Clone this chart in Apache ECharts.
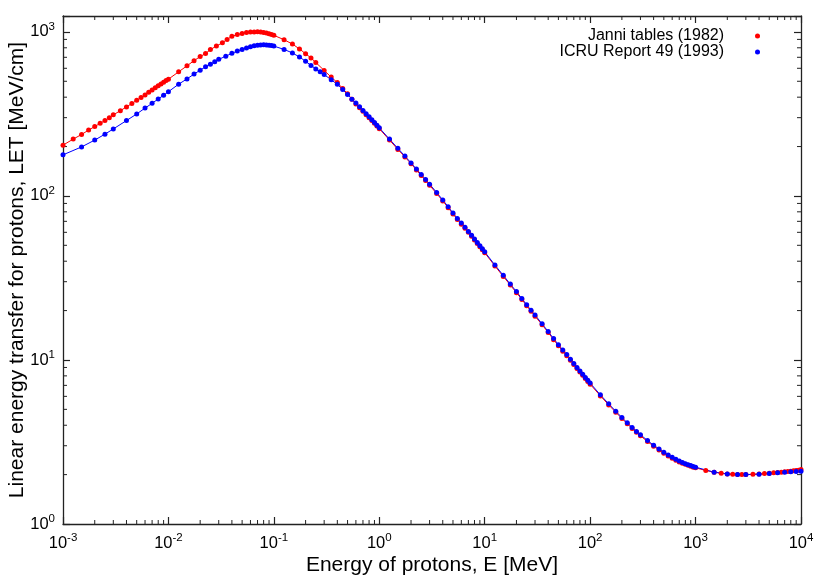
<!DOCTYPE html>
<html>
<head>
<meta charset="utf-8">
<script src="https://cdn.jsdelivr.net/npm/echarts@6/dist/echarts.min.js"></script>
<style>
  html, body { margin: 0; background: #fff; }
  #chart { width: 830px; height: 581px; }
</style>
</head>
<body>
<div id="chart"></div>
<script>
// proton energy [MeV] / LET [MeV/cm]
const janniE = [
  0.001, 0.00125, 0.0015, 0.00175, 0.002, 0.00225, 0.0025, 0.00275, 0.003, 0.0035,
  0.004, 0.0045, 0.005, 0.0055, 0.006, 0.0065, 0.007, 0.0075, 0.008, 0.0085,
  0.009, 0.0095, 0.01, 0.0125, 0.015, 0.0175, 0.02, 0.0225, 0.025, 0.0285,
  0.0325, 0.036, 0.04, 0.045, 0.05, 0.055, 0.06, 0.065, 0.07, 0.075,
  0.08, 0.085, 0.09, 0.095, 0.1, 0.125, 0.15, 0.175, 0.2, 0.225,
  0.25, 0.3, 0.35, 0.4, 0.45, 0.5, 0.55, 0.6, 0.65, 0.7,
  0.75, 0.8, 0.85, 0.9, 0.95, 1, 1.25, 1.5, 1.75, 2,
  2.25, 2.5, 2.75, 3, 3.5, 4, 4.5, 5, 5.5, 6,
  6.5, 7, 7.5, 8, 8.5, 9, 9.5, 10, 12.5, 15,
  17.5, 20, 22.5, 25, 27.5, 30, 35, 40, 45, 50,
  55, 60, 65, 70, 75, 80, 85, 90, 95, 100,
  125, 150, 175, 200, 225, 250, 275, 300, 350, 400,
  450, 500, 550, 600, 650, 700, 750, 800, 850, 900,
  950, 1000, 1250, 1500, 1750, 2000, 2250, 2500, 2750, 3000,
  3500, 4000, 4500, 5000, 5500, 6000, 6500, 7000, 7500, 8000,
  8500, 9000, 9500, 10000
];
const janniLET = [
  204, 222, 237, 252, 265, 277, 288, 300, 312, 331,
  349, 366, 383, 398, 412, 428, 443, 457, 470, 482,
  494, 505, 515, 571, 621, 668, 707, 738, 780, 820,
  858, 900, 940, 963, 978, 991, 999, 1000, 1001, 999,
  992, 983, 974, 963, 953, 896, 843, 787, 736, 694,
  651, 582, 530, 491, 451, 420, 389, 363, 345, 328,
  313, 300, 288, 277, 267, 257, 219, 192, 173, 157,
  144, 133, 124, 116, 103.5, 93.2, 84.8, 77.6, 71.9, 67.3,
  63.5, 60.0, 56.8, 53.9, 51.3, 49.0, 46.9, 45.0, 37.4, 32.3,
  28.6, 25.7, 23.4, 21.4, 19.8, 18.5, 16.4, 14.7, 13.3, 12.2,
  11.3, 10.6, 9.95, 9.37, 8.87, 8.45, 8.06, 7.72, 7.40, 7.12,
  6.04, 5.32, 4.80, 4.40, 4.08, 3.82, 3.62, 3.45, 3.18, 2.98,
  2.83, 2.70, 2.60, 2.52, 2.45, 2.39, 2.35, 2.31, 2.28, 2.25,
  2.22, 2.20, 2.12, 2.07, 2.04, 2.02, 2.01, 2.00, 2.00, 2.00,
  2.01, 2.02, 2.03, 2.04, 2.05, 2.06, 2.07, 2.08, 2.09, 2.10,
  2.11, 2.12, 2.13, 2.15
];
const icruE = [
  0.001, 0.0015, 0.002, 0.0025, 0.003, 0.004, 0.005, 0.006, 0.007, 0.008,
  0.009, 0.01, 0.0125, 0.015, 0.0175, 0.02, 0.0225, 0.025, 0.0275, 0.03,
  0.035, 0.04, 0.045, 0.05, 0.055, 0.06, 0.065, 0.07, 0.075, 0.08,
  0.085, 0.09, 0.095, 0.1, 0.125, 0.15, 0.175, 0.2, 0.225, 0.25,
  0.275, 0.3, 0.35, 0.4, 0.45, 0.5, 0.55, 0.6, 0.65, 0.7,
  0.75, 0.8, 0.85, 0.9, 0.95, 1, 1.25, 1.5, 1.75, 2,
  2.25, 2.5, 2.75, 3, 3.5, 4, 4.5, 5, 5.5, 6,
  6.5, 7, 7.5, 8, 8.5, 9, 9.5, 10, 12.5, 15,
  17.5, 20, 22.5, 25, 27.5, 30, 35, 40, 45, 50,
  55, 60, 65, 70, 75, 80, 85, 90, 95, 100,
  125, 150, 175, 200, 225, 250, 275, 300, 350, 400,
  450, 500, 550, 600, 650, 700, 750, 800, 850, 900,
  950, 1000, 1500, 2000, 2500, 3000, 4000, 5000, 6000, 7000,
  8000, 9000, 10000
];
const icruLET = [
  178, 199, 219, 238, 256, 288, 316, 343, 367, 390,
  411, 432, 480, 517, 553, 584, 613, 636, 658, 680,
  711, 740, 764, 781, 799, 811, 822, 830, 833, 834,
  833, 830, 825, 819, 782, 744, 703, 662, 625, 595,
  571, 549, 511, 479, 445, 415, 389, 368, 350, 332,
  317, 304, 291, 280, 270, 260, 222, 195, 175, 159,
  146, 135, 126, 118, 105, 94.5, 86, 78.7, 72.9, 68.3,
  64.4, 60.8, 57.6, 54.6, 52.0, 49.7, 47.6, 45.6, 37.9, 32.8,
  29.0, 26.1, 23.7, 21.7, 20.1, 18.8, 16.6, 14.9, 13.5, 12.4,
  11.5, 10.8, 10.1, 9.50, 9.00, 8.58, 8.18, 7.83, 7.51, 7.23,
  6.13, 5.40, 4.87, 4.46, 4.14, 3.88, 3.67, 3.50, 3.23, 3.02,
  2.87, 2.74, 2.63, 2.55, 2.48, 2.42, 2.37, 2.33, 2.30, 2.27,
  2.24, 2.22, 2.07, 2.02, 2.00, 2.00, 2.01, 2.03, 2.05, 2.07,
  2.08, 2.09, 2.10
];
const seriesNames = ['Janni tables (1982)', 'ICRU Report 49 (1993)'];
const xRange = [0.001, 10000];
const yRange = [1, 1250];
const minorMult = [2, 3, 4, 5, 6, 7, 8, 9];

const FONT = '"Liberation Sans", Arial, Helvetica, sans-serif';
const FRAME = '#222';

function powLabel(v) {
  const e = Math.round(Math.log10(v));
  if (Math.abs(v - Math.pow(10, e)) / v > 1e-6) return '';
  return '{b|10}{s|' + e + '}';
}

const labelRich = {
  b: { fontSize: 16.5, fontFamily: FONT, color: '#000' },
  s: { fontSize: 11.5, fontFamily: FONT, color: '#000', padding: [0, 0, 11, 0] }
};

function mainAxis(pos, range, name, gap) {
  return {
    type: 'log', logBase: 10, position: pos,
    min: range[0], max: range[1],
    name: name, nameLocation: 'middle', nameGap: gap, nameMoveOverlap: false,
    nameTextStyle: { fontSize: 21, fontFamily: FONT, color: '#000' },
    axisLine: { show: true, lineStyle: { color: FRAME, width: 1.3 } },
    axisTick: { show: true, inside: true, length: 7, lineStyle: { color: FRAME, width: 1.2 } },
    axisLabel: { formatter: powLabel, rich: labelRich, margin: 8 },
    splitLine: { show: false }
  };
}

function mirrorAxis(pos, range) {
  return {
    type: 'log', logBase: 10, position: pos,
    min: range[0], max: range[1],
    axisLine: { show: true, lineStyle: { color: FRAME, width: 1.3 } },
    axisTick: { show: true, inside: true, length: 7, lineStyle: { color: FRAME, width: 1.2 } },
    axisLabel: { show: false },
    splitLine: { show: false }
  };
}

function pairs(xs, ys) {
  return xs.map((x, i) => [x, ys[i]]);
}

const chart = echarts.init(document.getElementById('chart'), null, { renderer: 'canvas' });

chart.setOption({
  animation: false,
  backgroundColor: '#fff',
  grid: { left: 63, right: 29, top: 16, bottom: 57, outerBoundsMode: 'none', containLabel: false },
  xAxis: [
    mainAxis('bottom', xRange, 'Energy of protons, E [MeV]', 31),
    mirrorAxis('top', xRange)
  ],
  yAxis: [
    mainAxis('left', yRange, 'Linear energy transfer for protons, LET [MeV/cm]', 35),
    mirrorAxis('right', yRange)
  ],
  legend: {
    orient: 'vertical', right: 65, top: 23, align: 'right',
    icon: 'circle', itemWidth: 5, itemHeight: 5, itemGap: 0,
    textStyle: { fontSize: 16, fontFamily: FONT, color: '#000', lineHeight: 16, padding: [0, 26, 0, 0] },
    data: seriesNames
  },
  series: [
    {
      name: seriesNames[0], type: 'line',
      data: pairs(janniE, janniLET),
      symbol: 'circle', symbolSize: 5, showSymbol: true,
      lineStyle: { color: '#ff0000', width: 1 },
      itemStyle: { color: '#ff0000' }
    },
    {
      name: seriesNames[1], type: 'line',
      data: pairs(icruE, icruLET),
      symbol: 'circle', symbolSize: 5, showSymbol: true,
      lineStyle: { color: '#0000ff', width: 1 },
      itemStyle: { color: '#0000ff' }
    }
  ]
});

// gnuplot-style minor ticks (2..9 per decade) on all four sides
function minorTicks() {
  const els = [];
  const g = chart.getModel().getComponent('grid').coordinateSystem.getRect();
  const len = 4;
  const style = { stroke: FRAME, lineWidth: 1 };
  for (let k = -3; k < 4; k++) {
    minorMult.forEach(m => {
      const v = m * Math.pow(10, k);
      const px = chart.convertToPixel({ xAxisIndex: 0 }, v);
      els.push({ type: 'line', shape: { x1: px, y1: g.y + g.height, x2: px, y2: g.y + g.height - len }, style });
      els.push({ type: 'line', shape: { x1: px, y1: g.y, x2: px, y2: g.y + len }, style });
    });
  }
  for (let k = 0; k < 4; k++) {
    minorMult.forEach(m => {
      const v = m * Math.pow(10, k);
      if (v > yRange[1]) return;
      const py = chart.convertToPixel({ yAxisIndex: 0 }, v);
      els.push({ type: 'line', shape: { x1: g.x, y1: py, x2: g.x + len, y2: py }, style });
      els.push({ type: 'line', shape: { x1: g.x + g.width, y1: py, x2: g.x + g.width - len, y2: py }, style });
    });
  }
  return els;
}

chart.setOption({ graphic: minorTicks() });
</script>
</body>
</html>
